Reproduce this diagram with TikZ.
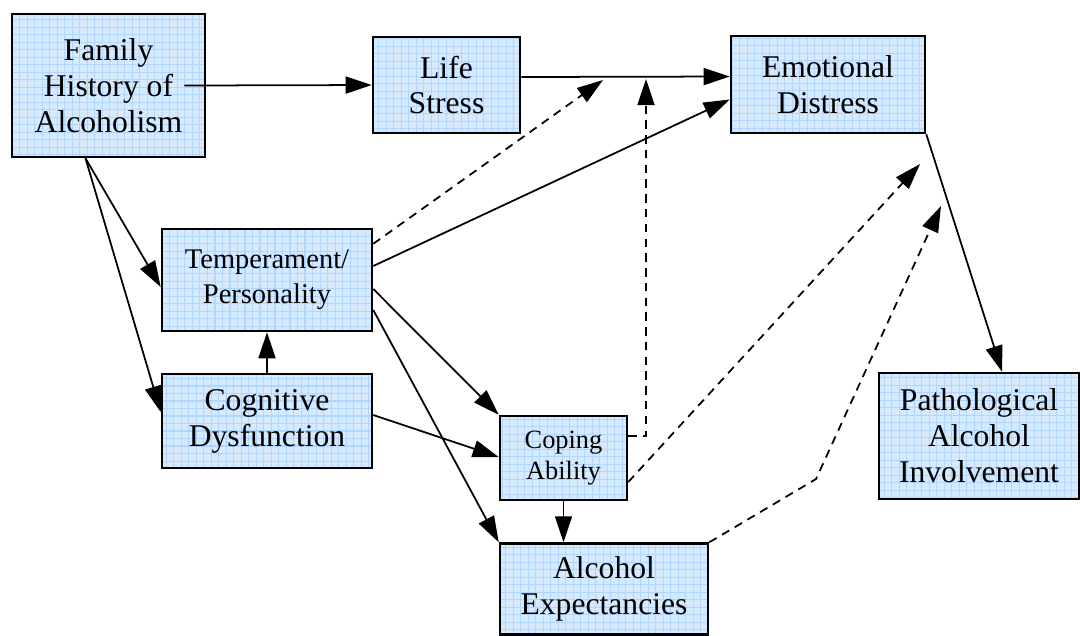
\documentclass[tikz,border=0pt]{standalone}
\usepackage{fontspec}
\setmainfont{Liberation Serif}
\usepackage{tikz}
\usetikzlibrary{positioning}
\usetikzlibrary{calc}
\usetikzlibrary{arrows.meta}
\definecolor{boxfill}{RGB}{214,234,255}
\definecolor{boxgrid}{RGB}{176,214,255}

\begin{document}
\begin{tikzpicture}[x=0.01cm, y=-0.01cm,
		arr/.style={-{Triangle[length=2.6mm, width=1.7mm]}, line width=0.5pt},
		dsh/.style={arr, dash pattern=on 2.4pt off 1.8pt}]
		\useasboundingbox (0,0) rectangle (1080,635);
		\begin{scope}[every node/.style={draw, line width=0.7pt, fill=boxfill, align=center, inner sep=0pt,
				font=\fontsize{9}{10.2}\selectfont,
				path picture={\draw[boxgrid, line width=0.3pt] (path picture bounding box.south west) grid[step=0.075cm] (path picture bounding box.north east);}}]
			\node[minimum width=1.93cm, minimum height=1.43cm] (fam) at (108.5,85.5) {Family\\History of\\Alcoholism};
			\node[minimum width=1.47cm, minimum height=0.96cm] (ls) at (446.5,85) {Life\\Stress};
			\node[minimum width=1.94cm, minimum height=0.97cm] (ed) at (828,84.5) {Emotional\\Distress};
			\node[minimum width=2.10cm, minimum height=1.02cm, font=\fontsize{8.1}{10}\selectfont] (temp) at (267,280) {Temperament/\\Personality};
			\node[minimum width=2.10cm, minimum height=0.94cm] (cog) at (267,421) {Cognitive\\Dysfunction};
			\node[minimum width=1.27cm, minimum height=0.84cm, font=\fontsize{7.5}{8.8}\selectfont] (cop) at (563.5,458) {Coping\\Ability};
			\node[minimum width=2.08cm, minimum height=0.91cm] (alc) at (604,589) {Alcohol\\Expectancies};
			\node[minimum width=2.00cm, minimum height=1.26cm] (pat) at (979,436) {Pathological\\Alcohol\\Involvement};
		\end{scope}
		\coordinate (m1) at (603,80);
		\coordinate (m2) at (646,79);
		\coordinate (t1) at (920,164);
		\coordinate (k1) at (816,479);
		\coordinate (t2) at (941,206);
		\draw[arr] ([xshift=-0.22cm]fam.east) -- (ls.west);
		\draw[arr] ([yshift=0.08cm]ls.east) -- ([yshift=0.08cm]ed.west);
		\draw[dsh] ([yshift=-0.16cm]temp.north east) -- (m1);
		\draw[dsh] ([yshift=0.22cm]cop.east) -| (m2);
		\draw[arr] ([yshift=0.14cm]temp.east) -- ([yshift=-0.15cm]ed.west);
		\draw[arr] ([xshift=-0.23cm]fam.south) -- ([yshift=-0.07cm]temp.west);
		\draw[arr] ([xshift=-0.23cm]fam.south) -- ([yshift=0.09cm]cog.west);
		\draw[arr] (cog.north) -- (temp.south);
		\draw[arr] ([yshift=-0.09cm]temp.east) -- (cop.north west);
		\draw[arr] ([yshift=-0.30cm]temp.east) -- (alc.north west);
		\draw[arr] ([yshift=0.06cm]cog.east) -- ([yshift=0.01cm]cop.west);
		\draw[arr] (cop.south) -- (cop.south |- alc.north);
		\draw[dsh] ([yshift=-0.24cm]cop.east) -- (t1);
		\draw[dsh] (alc.north east) -- (k1) -- (t2);
		\draw[arr] (ed.south east) -- ([xshift=0.23cm]pat.north);
	\end{tikzpicture}
\end{document}
